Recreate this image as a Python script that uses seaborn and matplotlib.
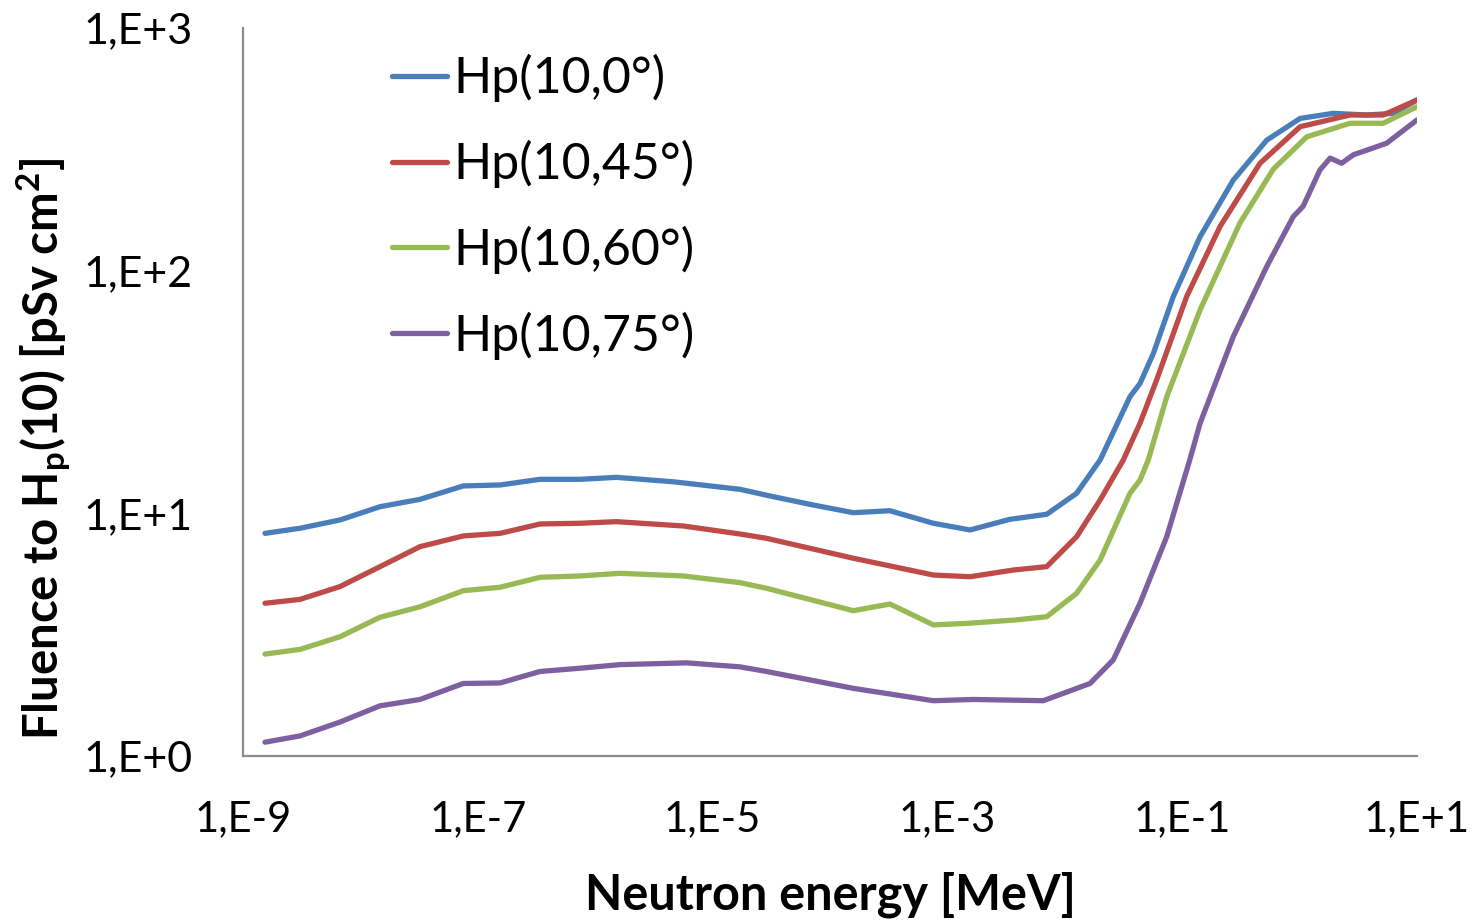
import matplotlib
matplotlib.use("Agg")
import matplotlib.pyplot as plt
import seaborn as sns
import pandas as pd
from matplotlib.ticker import FixedLocator, FixedFormatter, NullLocator

# ---- data ----
E_0 = [1.54e-9, 3.06e-9, 6.70e-9, 1.47e-8, 3.22e-8, 7.53e-8, 1.55e-7, 3.39e-7, 7.43e-7,
       1.52e-6, 4.62e-6, 1.71e-5, 3.29e-5, 7.21e-5, 1.58e-4, 3.24e-4, 7.59e-4, 1.56e-3,
       3.41e-3, 7.01e-3, 1.26e-2, 2.00e-2, 3.59e-2, 4.37e-2, 5.68e-2, 8.39e-2, 0.142,
       0.272, 0.525, 1.01, 1.94, 3.72, 6.28, 10.0]
H_0 = [8.27, 8.68, 9.39, 10.65, 11.42, 12.97, 13.09, 13.81, 13.81,
       14.07, 13.49, 12.56, 11.71, 10.82, 10.06, 10.25, 9.10, 8.54,
       9.45, 9.91, 12.09, 16.59, 30.25, 34.3, 45.6, 78.1, 138,
       236, 345, 424, 445, 438, 445, 505]

E_45 = [1.54e-9, 3.06e-9, 6.70e-9, 1.47e-8, 3.22e-8, 7.53e-8, 1.55e-7, 3.39e-7, 7.43e-7,
        1.52e-6, 5.62e-6, 1.71e-5, 2.88e-5, 1.58e-4, 7.59e-4, 1.56e-3, 3.65e-3, 7.01e-3,
        1.26e-2, 2.00e-2, 3.15e-2, 4.37e-2, 6.05e-2, 0.109, 0.210, 0.460, 1.01, 2.69,
        5.16, 10.0]
H_45 = [4.26, 4.42, 4.99, 6.03, 7.29, 8.07, 8.27, 9.04, 9.10,
        9.24, 8.87, 8.22, 7.89, 6.53, 5.57, 5.48, 5.84, 6.03,
        8.01, 11.35, 16.59, 23.5, 35.4, 78.1, 152, 277, 392, 438,
        438, 505]

E_60 = [1.54e-9, 3.06e-9, 6.70e-9, 1.47e-8, 3.22e-8, 7.53e-8, 1.55e-7, 3.39e-7, 7.43e-7,
        1.63e-6, 5.62e-6, 1.71e-5, 2.88e-5, 1.58e-4, 3.24e-4, 7.59e-4, 1.46e-3, 3.65e-3,
        7.01e-3, 1.26e-2, 2.00e-2, 2.68e-2, 3.59e-2, 4.37e-2, 5.14e-2, 7.38e-2, 0.142,
        0.310, 0.597, 1.15, 2.69, 5.16, 10.0]
H_60 = [2.63, 2.75, 3.10, 3.73, 4.12, 4.80, 4.96, 5.45, 5.52,
        5.66, 5.52, 5.18, 4.91, 3.97, 4.23, 3.47, 3.52, 3.63,
        3.75, 4.68, 6.42, 8.81, 12.09, 13.7, 16.6, 30.2, 68.9,
        157, 262, 356, 405, 405, 474]

E_75 = [1.54e-9, 3.06e-9, 6.70e-9, 1.47e-8, 3.22e-8, 7.53e-8, 1.55e-7, 3.39e-7, 7.43e-7,
        1.63e-6, 6.01e-6, 1.71e-5, 2.88e-5, 1.58e-4, 7.59e-4, 1.66e-3, 6.56e-3, 1.64e-2,
        2.59e-2, 4.37e-2, 7.38e-2, 0.116, 0.142, 0.272, 0.525, 0.883, 1.07, 1.49,
        1.82, 2.28, 2.86, 5.51, 10.0]
H_75 = [1.14, 1.21, 1.38, 1.61, 1.71, 1.99, 2.00, 2.23, 2.30,
        2.38, 2.42, 2.33, 2.23, 1.90, 1.69, 1.71, 1.69, 1.99,
        2.49, 4.26, 8.01, 16.6, 23.5, 53.4, 104, 167, 184, 260,
        291, 277, 300, 335, 418]

series_names = ["Hp(10,0°)", "Hp(10,45°)", "Hp(10,60°)", "Hp(10,75°)"]
colors = ["#4A7EBB", "#BE4B48", "#98B954", "#7D60A0"]

x_ticks = [1e-9, 1e-7, 1e-5, 1e-3, 1e-1, 1e1]
x_tick_labels = ["1,E-9", "1,E-7", "1,E-5", "1,E-3", "1,E-1", "1,E+1"]
y_ticks = [1, 10, 100, 1000]
y_tick_labels = ["1,E+0", "1,E+1", "1,E+2", "1,E+3"]

# ---- build long-form table ----
frames = []
for name, E, H in zip(series_names, [E_0, E_45, E_60, E_75], [H_0, H_45, H_60, H_75]):
    frames.append(pd.DataFrame({"E": E, "H": H, "series": name}))
df = pd.concat(frames, ignore_index=True)

sns.set_style("white")
plt.rcParams["font.family"] = ["Lato", "DejaVu Sans"]
plt.rcParams["mathtext.fontset"] = "custom"
plt.rcParams["mathtext.rm"] = "Lato"
plt.rcParams["mathtext.bf"] = "Lato:bold"
plt.rcParams["text.color"] = "black"
plt.rcParams["axes.labelcolor"] = "black"

fig = plt.figure(figsize=(14.8, 9.23), dpi=100)
ax = fig.add_axes([243 / 1480, 1 - 756 / 923, (1417 - 243) / 1480, (756 - 28) / 923])

sns.lineplot(data=df, x="E", y="H", hue="series", hue_order=series_names,
             palette=colors, linewidth=3.8, sort=True, estimator=None, ax=ax)
for ln in ax.get_lines():
    ln.set_solid_joinstyle("round")
    ln.set_solid_capstyle("round")

ax.set_xscale("log")
ax.set_yscale("log")
ax.set_xlim(1e-9, 1e1)
ax.set_ylim(1, 1000)

ax.xaxis.set_major_locator(FixedLocator(x_ticks))
ax.xaxis.set_major_formatter(FixedFormatter(x_tick_labels))
ax.xaxis.set_minor_locator(NullLocator())
ax.yaxis.set_major_locator(FixedLocator(y_ticks))
ax.yaxis.set_major_formatter(FixedFormatter(y_tick_labels))
ax.yaxis.set_minor_locator(NullLocator())

for s in ["top", "right"]:
    ax.spines[s].set_visible(False)
for s in ["left", "bottom"]:
    ax.spines[s].set_color("#8C8C8C")
    ax.spines[s].set_linewidth(1.6)

ax.tick_params(axis="x", direction="out", length=9.5, width=1.6, color="#8C8C8C",
               labelsize=30, pad=22, labelcolor="black")
ax.tick_params(axis="y", direction="out", length=11, width=1.6, color="#8C8C8C",
               labelsize=31, pad=25, labelcolor="black")

ax.set_xlabel("Neutron energy [MeV]", fontsize=35, fontweight="bold", color="black")
ax.set_ylabel(r"Fluence to H$_{\mathbf{p}}$(10) [pSv cm$^{\mathbf{2}}$]",
              fontsize=34, fontweight="bold", color="black")
ax.xaxis.set_label_coords(0.5, -0.158)
ax.yaxis.set_label_coords(-0.146, 0.422)

leg = ax.legend(loc="upper left", bbox_to_anchor=(0.097, 1.012), frameon=False,
                fontsize=36, handlelength=1.1, handletextpad=0.12, labelspacing=0.75,
                borderaxespad=0.3)
for line in leg.get_lines():
    line.set_linewidth(3.8)
for t in leg.get_texts():
    t.set_color("black")

ax.grid(False)
fig.savefig("out.png", dpi=100)
